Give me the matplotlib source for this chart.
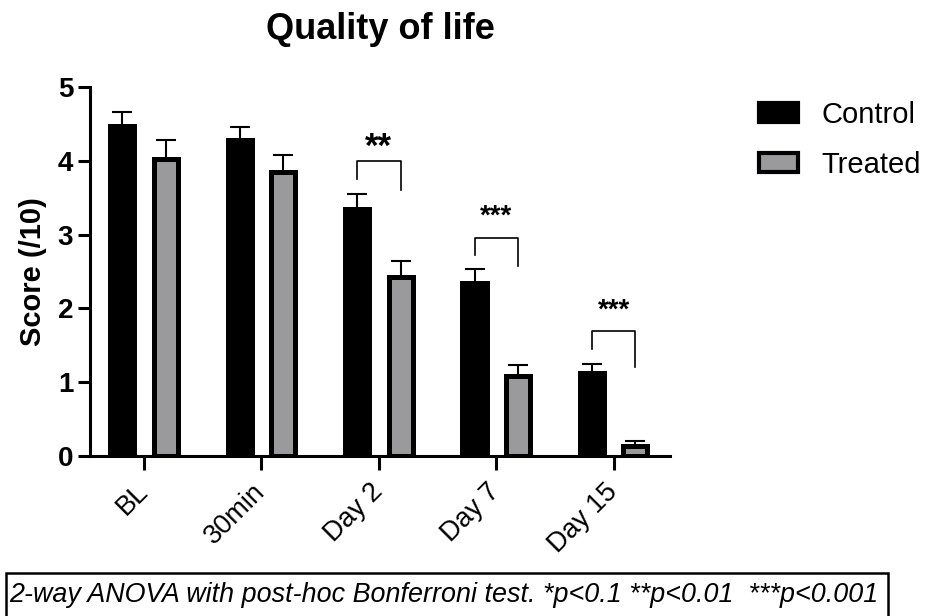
import matplotlib
matplotlib.use("Agg")
import matplotlib.pyplot as plt
import matplotlib.transforms as mtransforms
import numpy as np
from matplotlib.patches import Patch, Rectangle

plt.rcParams["font.family"] = ["Liberation Sans", "DejaVu Sans"]

timepoints = ["BL", "30min", "Day 2", "Day 7", "Day 15"]
control_mean = [4.47, 4.28, 3.35, 2.35, 1.12]
control_sem = [0.19, 0.18, 0.20, 0.19, 0.13]
treated_mean = [4.03, 3.85, 2.43, 1.08, 0.13]
treated_sem = [0.25, 0.23, 0.21, 0.15, 0.08]

# significance brackets: group index, bracket top, left/right leg ends, star height, label
sig_index = [2, 3, 4]
sig_top = [4.00, 2.96, 1.70]
sig_left_end = [3.75, 2.72, 1.45]
sig_right_end = [3.61, 2.57, 1.20]
sig_star_y = [4.18, 3.24, 1.97]
sig_labels = ["**", "***", "***"]
sig_sizes = [25, 20, 20]

x = np.arange(len(timepoints))
offset = 0.185
width = 0.205
gray = "#9a9a9c"

fig = plt.figure(figsize=(9.25, 6.16), dpi=100)
ax = fig.add_axes([0.0973, 0.2597, 0.627, 0.599])

ax.errorbar(x - offset, control_mean, yerr=[np.zeros(5), control_sem], fmt="none",
            ecolor="black", elinewidth=1.5, capsize=7, capthick=1.5, zorder=1)
ax.errorbar(x + offset, treated_mean, yerr=[np.zeros(5), treated_sem], fmt="none",
            ecolor="black", elinewidth=1.5, capsize=7, capthick=1.5, zorder=1)
ax.bar(x - offset, control_mean, width, color="black", edgecolor="black", linewidth=3.6, zorder=2)
ax.bar(x + offset, treated_mean, width, color=gray, edgecolor="black", linewidth=3.6, zorder=2)

for i, top, le, re, sy, lab, fs in zip(sig_index, sig_top, sig_left_end, sig_right_end,
                                       sig_star_y, sig_labels, sig_sizes):
    x0, x1 = i - offset, i + offset
    ax.plot([x0, x0, x1, x1], [le, top, top, re], color="black", lw=1.2, zorder=3)
    ax.text(i, sy, lab, ha="center", va="center", fontsize=fs, fontweight="bold")

ax.set_xlim(-0.46, 4.48)
ax.set_ylim(0, 5)
ax.set_yticks([0, 1, 2, 3, 4, 5])
ax.set_xticks(x)
ax.set_xticklabels(timepoints, rotation=45, ha="right", va="center",
                   rotation_mode="anchor", fontsize=19.5)
shift = mtransforms.ScaledTranslation(8 / 100, 0, fig.dpi_scale_trans)
for lbl in ax.get_xticklabels():
    lbl.set_transform(lbl.get_transform() + shift)
for lbl in ax.get_yticklabels():
    lbl.set_fontweight("bold")
ax.tick_params(axis="y", labelsize=20, width=2.2, length=9, pad=3)
ax.tick_params(axis="x", width=2.2, length=10, pad=13)
for side in ["top", "right"]:
    ax.spines[side].set_visible(False)
for side in ["left", "bottom"]:
    ax.spines[side].set_linewidth(2.2)

ax.set_ylabel("Score (/10)", fontsize=21, fontweight="bold", labelpad=8)
fig.text(0.411, 0.952, "Quality of life", ha="center", va="center", fontsize=26, fontweight="bold")

handles = [Patch(facecolor="black", edgecolor="black", linewidth=3),
           Patch(facecolor=gray, edgecolor="black", linewidth=3)]
fig.legend(handles, ["Control", "Treated"], loc="upper left", bbox_to_anchor=(0.808, 0.855),
           frameon=False, fontsize=21, handlelength=1.35, handleheight=0.65,
           handletextpad=0.8, labelspacing=0.75, borderaxespad=0)

fig.patches.append(Rectangle((0.006, -0.02), 0.954, 0.09, transform=fig.transFigure,
                             fill=False, edgecolor="black", linewidth=1.8))
fig.text(0.010, 0.034, "2-way ANOVA with post-hoc Bonferroni test. *p<0.1 **p<0.01  ***p<0.001",
         ha="left", va="center", fontsize=19.4, fontstyle="italic")

fig.savefig("out.png", dpi=100)
